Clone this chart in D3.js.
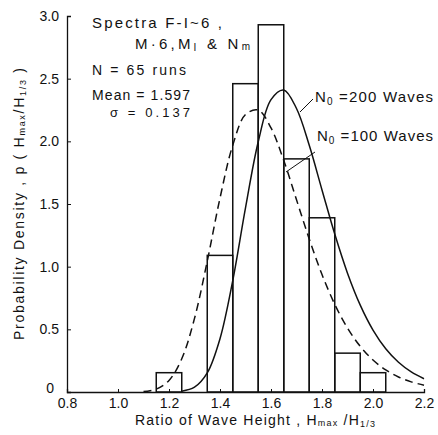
<!DOCTYPE html>
<html><head><meta charset="utf-8">
<script src="https://cdn.jsdelivr.net/npm/d3@7"></script>
<style>
body{margin:0;background:#fff}
text{font-family:"Liberation Sans",Arial,sans-serif;fill:#111}
</style>
</head><body>
<svg id="c" width="438" height="435"></svg>
<script>
// ---- data ----
const binEdges = [1.15, 1.25, 1.35, 1.45, 1.55, 1.65, 1.75, 1.85, 1.95, 2.05];
const binDensity = [0.154, 0, 1.09, 2.46, 2.93, 1.86, 1.39, 0.31, 0.154];
const curveX = [1.10,1.15,1.20,1.25,1.30,1.35,1.40,1.45,1.50,1.55,1.60,1.65,1.70,1.75,1.80,1.85,1.90,1.95,2.00,2.05,2.10,2.15,2.20];
const densityN100 = [0.004,0.023,0.092,0.265,0.587,1.044,1.547,1.969,2.214,2.250,2.107,1.847,1.534,1.221,0.937,0.700,0.510,0.364,0.255,0.176,0.120,0.081,0.054];
const densityN200 = [null,null,null,0.006,0.038,0.152,0.425,0.889,1.469,1.997,2.333,2.410,2.262,1.968,1.612,1.260,0.948,0.693,0.494,0.345,0.237,0.160,0.106];
const xTicks = [0.8, 1.0, 1.2, 1.4, 1.6, 1.8, 2.0, 2.2];
const xTickLabels = ["0.8","1.0","1.2","1.4","1.6","1.8","2.0","2.2"];
const yTicks = [0, 0.5, 1.0, 1.5, 2.0, 2.5, 3.0];
const yTickLabels = ["0","0.5","1.0","1.5","2.0","2.5","3.0"];

const svg = d3.select("#c");
const x = d3.scaleLinear().domain([0.8, 2.2]).range([67, 424]);
const y = d3.scaleLinear().domain([0, 3]).range([392, 16]);

// histogram bars
const bins = binDensity.map((v,i)=>({x0:binEdges[i], x1:binEdges[i+1], v}));
svg.append("g").selectAll("rect").data(bins.filter(d=>d.v>0)).join("rect")
  .attr("x", d=>x(d.x0)).attr("width", d=>x(d.x1)-x(d.x0))
  .attr("y", d=>y(d.v)).attr("height", d=>y(0)-y(d.v))
  .attr("fill","none").attr("stroke","#111").attr("stroke-width",1.5);

// curves
const line = d3.line().defined(d=>d[1]!==null).x(d=>x(d[0])).y(d=>y(d[1])).curve(d3.curveCatmullRom);
svg.append("path").datum(curveX.map((v,i)=>[v,densityN100[i]]))
  .attr("d", line).attr("fill","none").attr("stroke","#111").attr("stroke-width",1.5)
  .attr("stroke-dasharray","8,5");
svg.append("path").datum(curveX.map((v,i)=>[v,densityN200[i]]))
  .attr("d", line).attr("fill","none").attr("stroke","#111").attr("stroke-width",1.5);

// axes
const xAxis = d3.axisBottom(x).tickValues(xTicks).tickSize(-3).tickFormat((d,i)=>xTickLabels[i]);
const gx = svg.append("g").attr("transform",`translate(0,${y(0)})`).call(xAxis);
gx.select(".domain").attr("stroke","#111").attr("stroke-width",1.3);
gx.selectAll(".tick line").attr("stroke","#111");
gx.selectAll(".tick text").attr("font-size",14).attr("dy",null).attr("y",16).attr("fill","#111")
  .style("font-family",'"Liberation Sans",Arial,sans-serif');

const yAxis = d3.axisLeft(y).tickValues(yTicks).tickSize(-4).tickFormat((d,i)=>yTickLabels[i]);
const gy = svg.append("g").attr("transform",`translate(${x(0.8)},0)`).call(yAxis);
gy.select(".domain").attr("stroke","#111").attr("stroke-width",1.3);
gy.selectAll(".tick line").attr("stroke","#111");
gy.selectAll(".tick text").attr("font-size",14).attr("x",-8).attr("fill","#111")
  .style("font-family",'"Liberation Sans",Arial,sans-serif');
gy.selectAll(".tick text").filter(d=>d===0).attr("x",-13).attr("dy","0.05em");

// axis titles
const xt = svg.append("text").attr("x",135).attr("y",425).attr("font-size",14)
  .attr("textLength",240).attr("lengthAdjust","spacing");
xt.append("tspan").text("Ratio  of  Wave  Height , H");
xt.append("tspan").attr("font-size",9).attr("dy",1).text("max");
xt.append("tspan").attr("dy",-1).text(" /H");
xt.append("tspan").attr("font-size",9).attr("dy",2).text("1/3");

const yt = svg.append("text").attr("transform","translate(24,340) rotate(-90)")
  .attr("font-size",14).attr("textLength",272).attr("lengthAdjust","spacing");
yt.append("tspan").text("Probability  Density , p ( H");
yt.append("tspan").attr("font-size",9).attr("dy",1).text("max");
yt.append("tspan").attr("dy",-1).text("/H");
yt.append("tspan").attr("font-size",9).attr("dy",2).text("1/3");
yt.append("tspan").attr("dy",-2).text(" )");

// annotation block
function txt(xp, yp, len, fs){ return svg.append("text").attr("x",xp).attr("y",yp).attr("font-size",fs||15)
  .attr("textLength",len).attr("lengthAdjust","spacing"); }
txt(92,28,130).text("Spectra  F-I~6 ,");
const t2 = txt(135,49,115);
t2.append("tspan").text("M·6,M");
t2.append("tspan").attr("font-size",10).attr("dy",2).text("I");
t2.append("tspan").attr("dy",-2).text(" & N");
t2.append("tspan").attr("font-size",10).attr("dy",1).text("m");
txt(92,75,94,14).text("N = 65 runs");
txt(92,100,98,14).text("Mean = 1.597");
txt(110,117,80,13).text("σ = 0.137");

const t6 = txt(315,102,118);
t6.append("tspan").text("N");
t6.append("tspan").attr("font-size",10).attr("dy",3).text("0");
t6.append("tspan").attr("dy",-3).text(" =200 Waves");
const t7 = txt(317,141,116);
t7.append("tspan").text("N");
t7.append("tspan").attr("font-size",10).attr("dy",3).text("0");
t7.append("tspan").attr("dy",-3).text(" =100 Waves");

// leader lines
svg.append("line").attr("x1",313).attr("y1",99).attr("x2",300).attr("y2",112)
  .attr("stroke","#111").attr("stroke-width",1);
svg.append("line").attr("x1",315).attr("y1",152).attr("x2",286).attr("y2",172)
  .attr("stroke","#111").attr("stroke-width",1);
</script>
</body></html>
